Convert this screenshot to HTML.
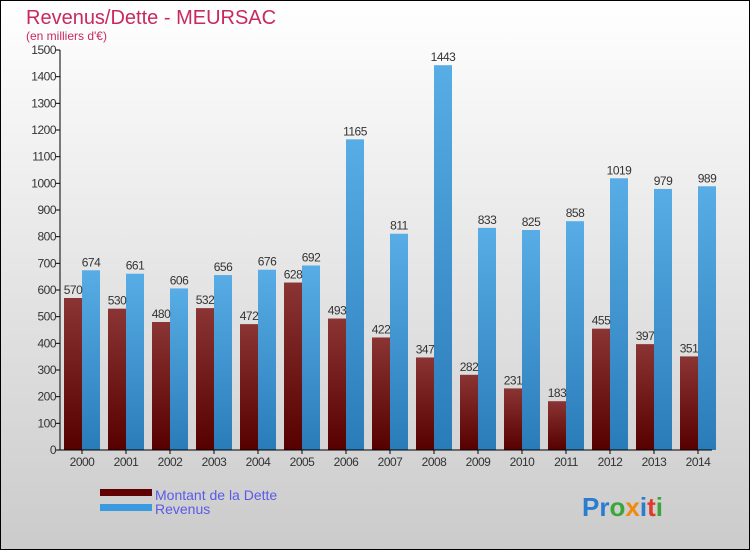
<!DOCTYPE html>
<html><head><meta charset="utf-8"><style>
html,body{margin:0;padding:0;}
body{width:750px;height:550px;overflow:hidden;font-family:"Liberation Sans",sans-serif;}
</style></head><body>
<svg id="chart" width="750" height="550" xmlns="http://www.w3.org/2000/svg">
<defs>
<linearGradient id="bg" x1="0" y1="0" x2="0" y2="1"><stop offset="0" stop-color="#ffffff"/><stop offset="1" stop-color="#cbcbcb"/></linearGradient>
<linearGradient id="gd" x1="0" y1="0" x2="0" y2="1"><stop offset="0" stop-color="#8a3434"/><stop offset="1" stop-color="#560000"/></linearGradient>
<linearGradient id="gr" x1="0" y1="0" x2="0" y2="1"><stop offset="0" stop-color="#58ade6"/><stop offset="1" stop-color="#2a7cb8"/></linearGradient>
</defs>
<rect x="0.5" y="0.5" width="749" height="549" fill="url(#bg)" stroke="#000"/>
<text x="26" y="24" font-size="20" fill="#c8295f">Revenus/Dette - MEURSAC</text>
<text x="26" y="40" font-size="12" fill="#c8295f">(en milliers d'€)</text>
<g id="plot"></g>
<rect x="100" y="489" width="52" height="7" fill="#600000"/>
<rect x="100" y="504" width="52" height="7" fill="#3a9ae0"/>
<text x="155" y="500" font-size="14" fill="#5a5ae8">Montant de la Dette</text>
<text x="155" y="514" font-size="14" fill="#5a5ae8">Revenus</text>
<text x="582" y="516" font-size="26" font-weight="bold"><tspan fill="#2a7ccf">Pr</tspan><tspan fill="#3aa63a">o</tspan><tspan fill="#f08a10">x</tspan><tspan fill="#2a7ccf">i</tspan><tspan fill="#e03a2a">t</tspan><tspan fill="#3aa63a">i</tspan></text>
</svg>
<script>
const years = ["2000","2001","2002","2003","2004","2005","2006","2007","2008","2009","2010","2011","2012","2013","2014"];
const dette = [570,530,480,532,472,628,493,422,347,282,231,183,455,397,351];
const revenus = [674,661,606,656,676,692,1165,811,1443,833,825,858,1019,979,989];
const yTicks = [0,100,200,300,400,500,600,700,800,900,1000,1100,1200,1300,1400,1500];
const NS="http://www.w3.org/2000/svg";
const g=document.getElementById('plot');
const y0=450, ymax=1500, ph=400;
function yScale(v){return y0 - v/ymax*ph;}
function xScale(i){return 82 + i*44;}
function mk(tag,attrs){const e=document.createElementNS(NS,tag);for(const k in attrs)e.setAttribute(k,attrs[k]);g.appendChild(e);return e;}
yTicks.forEach(t=>{
  const y=yScale(t);
  const tk=mk('line',{x1:56,x2:60,y1:y,y2:y,stroke:'#000'});
  
  
  const tx=mk('text',{x:56,y:y+4,'font-size':12,'text-anchor':'end',fill:'#333','letter-spacing':'-0.5'});
  tx.textContent=t;
  
  
});
years.forEach((yr,i)=>{
  const cx=xScale(i);
  const bd=mk('rect',{x:cx-18,y:yScale(dette[i]),width:18,height:y0-yScale(dette[i]),fill:'url(#gd)'});
  
  
  const br=mk('rect',{x:cx,y:yScale(revenus[i]),width:18,height:y0-yScale(revenus[i]),fill:'url(#gr)'});
  
  
  const ld=mk('text',{x:cx-9,y:yScale(dette[i])-4,'font-size':12,'text-anchor':'middle',fill:'#333','letter-spacing':'-0.5'});
  ld.textContent=dette[i];
  
  
  const lr=mk('text',{x:cx+9,y:yScale(revenus[i])-4,'font-size':12,'text-anchor':'middle',fill:'#333','letter-spacing':'-0.5'});
  lr.textContent=revenus[i];
  
  
  const xt=mk('line',{x1:cx,x2:cx,y1:450,y2:454,stroke:'#000'});
  
  
  const xl=mk('text',{x:cx,y:466,'font-size':12,'text-anchor':'middle',fill:'#333','letter-spacing':'-0.5'});
  xl.textContent=yr;
  
  
});
const ya=mk('line',{x1:60,x2:60,y1:50,y2:450,stroke:'#000'});


const xa=mk('line',{x1:60,x2:712,y1:450,y2:450,stroke:'#000'});


</script>
</body></html>
